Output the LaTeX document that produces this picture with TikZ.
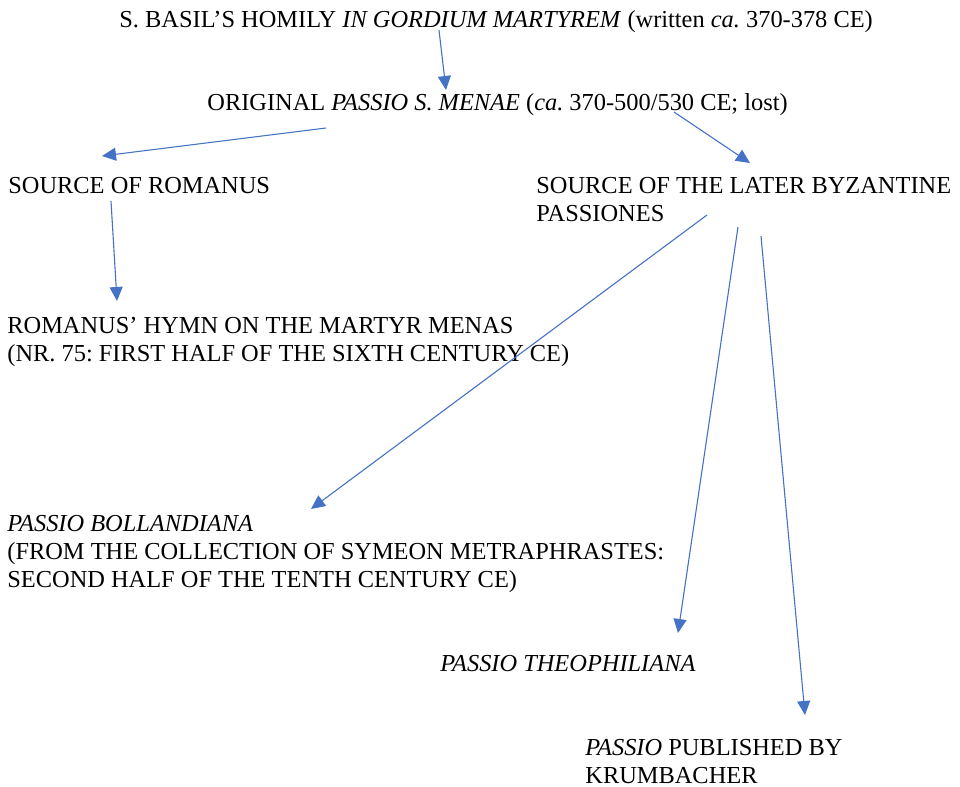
\documentclass[tikz,border=0pt]{standalone}
\usepackage{fontspec}
\setmainfont{Liberation Serif}
\usetikzlibrary{arrows.meta}
\definecolor{arrowblue}{HTML}{4472C4}
\frenchspacing

\begin{document}
\begin{tikzpicture}[x=0.5pt, y=-0.5pt, >={Triangle[length=7pt,width=6.5pt]},
  txt/.style={anchor=base west, inner sep=0pt, align=left, font=\fontsize{12.2}{14}\selectfont},
  link/.style={->, arrowblue, line width=0.55pt}]

  \useasboundingbox (0,0) rectangle (960,787);

  % Textos (linha de base da ultima linha, em pixels da figura)
  \node[txt] (basil) at (119,27) {S. BASIL’S HOMILY \textit{IN GORDIUM MARTYREM} (written \textit{ca.} 370-378 CE)};
  \node[txt] (original) at (207,110) {ORIGINAL \textit{PASSIO S. MENAE} (\textit{ca.} 370-500/530 CE; lost)};
  \node[txt] (srcrom) at (8,193) {SOURCE OF ROMANUS};
  \node[txt] (srcbyz) at (536,221) {SOURCE OF THE LATER BYZANTINE\\PASSIONES};
  \node[txt] (hymn) at (7,361) {ROMANUS’ HYMN ON THE MARTYR MENAS\\(NR. 75: FIRST HALF OF THE SIXTH CENTURY CE)};
  \node[txt] (bolland) at (7,587) {\textit{PASSIO BOLLANDIANA}\\(FROM THE COLLECTION OF SYMEON METRAPHRASTES:\\SECOND HALF OF THE TENTH CENTURY CE)};
  \node[txt] (theoph) at (440,671) {\textit{PASSIO THEOPHILIANA}};
  \node[txt] (krumb) at (585,783) {\textit{PASSIO} PUBLISHED BY\\KRUMBACHER};

  % Pontas das setas
  \coordinate (a0) at (439,30);   \coordinate (a1) at (446,90);
  \coordinate (b0) at (326,128);  \coordinate (b1) at (102,156);
  \coordinate (c0) at (674,112);  \coordinate (c1) at (750,163);
  \coordinate (d0) at (111,201);  \coordinate (d1) at (117,301);
  \coordinate (e0) at (707,215);  \coordinate (e1) at (311,509);
  \coordinate (f0) at (738,227);  \coordinate (f1) at (678,633);
  \coordinate (g0) at (761,236);  \coordinate (g1) at (805,715);

  % Setas
  \draw[link] (a0) -- (a1);
  \draw[link] (b0) -- (b1);
  \draw[link] (c0) -- (c1);
  \draw[link] (d0) -- (d1);
  \draw[link] (e0) -- (e1);
  \draw[link] (f0) -- (f1);
  \draw[link] (g0) -- (g1);

\end{tikzpicture}
\end{document}
